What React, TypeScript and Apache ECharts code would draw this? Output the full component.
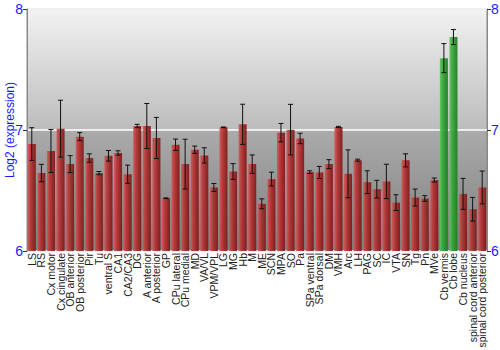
import React, { useEffect, useRef } from "react";
import * as echarts from "echarts";

const categories = [
  "LS", "RS", "Cx motor", "Cx cingulate", "OB anterior", "OB posterior", "Pir", "Tu",
  "ventral S", "CA1", "CA2/CA3", "DG", "A anterior", "A posterior", "GP", "CPu lateral",
  "CPu medial", "MD", "VA/VL", "VPM/VPL", "LG", "MG", "Hb", "M", "ME", "SCN", "MPA", "SO",
  "Pa", "SPa ventral", "SPa dorsal", "DM", "VMH", "Arc", "LH", "PAG", "SC", "IC", "VTA",
  "SN", "Tg", "Pn", "MVe", "Cb vermis", "Cb lobe", "Cb nucleus", "spinal cord anterior",
  "spinal cord posterior",
];

const values = [
  6.884, 6.644, 6.826, 7.011, 6.718, 6.945, 6.768, 6.644,
  6.787, 6.81, 6.635, 7.033, 7.033, 6.934, 6.436, 6.878,
  6.718, 6.837, 6.79, 6.525, 7.022, 6.657, 7.047, 6.718, 6.39, 6.594, 6.978, 7.003,
  6.93, 6.652, 6.649, 6.718, 7.025, 6.638, 6.751, 6.569, 6.511, 6.575, 6.4,
  6.749, 6.442, 6.434, 6.586, 7.594, 7.768, 6.472, 6.345,
  6.525,
];

const errors = [
  0.135, 0.072, 0.178, 0.235, 0.07, 0.033, 0.035, 0.013,
  0.044, 0.018, 0.075, 0.014, 0.186, 0.17, 0.003, 0.047,
  0.206, 0.03, 0.063, 0.033, 0.003, 0.065, 0.166, 0.076, 0.041, 0.057, 0.076, 0.209,
  0.043, 0.011, 0.05, 0.037, 0.005, 0.198, 0.008, 0.094, 0.073, 0.142, 0.065,
  0.054, 0.07, 0.023, 0.017, 0.12, 0.062, 0.128, 0.098,
  0.136,
];

const highlighted = ["Cb vermis", "Cb lobe"];

const yTicks = { min: 6, max: 8, interval: 1 };
const yAxisTitle = "Log2 (expression)";

export default function App() {
  const ref = useRef<HTMLDivElement>(null);
  useEffect(() => {
    if (!ref.current) return;
    const chart = echarts.init(ref.current, undefined, { renderer: "svg" });
    const redGrad = new echarts.graphic.LinearGradient(0, 0, 1, 0, [
      { offset: 0, color: "#d25a5a" },
      { offset: 0.35, color: "#b83434" },
      { offset: 1, color: "#7c1616" },
    ]);
    const greenGrad = new echarts.graphic.LinearGradient(0, 0, 1, 0, [
      { offset: 0, color: "#5cc85c" },
      { offset: 0.35, color: "#34a834" },
      { offset: 1, color: "#1c7a1c" },
    ]);
    const bgGrad = new echarts.graphic.LinearGradient(0, 0, 0, 1, [
      { offset: 0, color: "#f2f2f2" },
      { offset: 0.5, color: "#bcbcbc" },
      { offset: 0.5, color: "#ababab" },
      { offset: 1, color: "#7e7e7e" },
    ]);
    const blue = "#1a1aff";
    const yAxisCommon = {
      type: "value",
      min: yTicks.min,
      max: yTicks.max,
      interval: yTicks.interval,
      axisLine: { show: true, lineStyle: { color: "#888", width: 1 } },
      axisTick: { show: true, length: 4, lineStyle: { color: "#333" } },
      axisLabel: { color: blue, fontSize: 14, fontFamily: "Liberation Sans, Arial, sans-serif", margin: 4 },
    };
    chart.setOption({
      animation: false,
      grid: {
        left: 27,
        right: 13,
        top: 9,
        bottom: 99,
        show: true,
        backgroundColor: bgGrad,
        borderColor: "#888",
        borderWidth: 1,
        outerBoundsMode: "none",
        containLabel: false,
      },
      graphic: [
        {
          type: "text",
          x: 10,
          y: 130,
          rotation: Math.PI / 2,
          style: {
            text: yAxisTitle,
            fill: blue,
            fontSize: 12,
            fontFamily: "Liberation Sans, Arial, sans-serif",
            align: "center",
            verticalAlign: "middle",
          },
        },
      ],
      xAxis: {
        type: "category",
        data: categories,
        axisLine: { show: false },
        axisTick: { show: false },
        axisLabel: {
          interval: 0,
          rotate: 90,
          fontSize: 10.5,
          color: "#222",
          margin: 2,
          fontFamily: "Liberation Sans, Arial, sans-serif",
        },
      },
      yAxis: [
        {
          ...yAxisCommon,
          position: "left",
          splitLine: { show: true, lineStyle: { color: "#ffffff", width: 1.5 } },
        },
        {
          ...yAxisCommon,
          position: "right",
          splitLine: { show: false },
        },
      ],
      series: [
        {
          type: "bar",
          data: values.map((v, i) => ({
            value: v,
            itemStyle: {
              color: highlighted.includes(categories[i]) ? greenGrad : redGrad,
              opacity: 0.92,
            },
          })),
          barCategoryGap: "16%",
        },
        {
          type: "custom",
          data: values.map((v, i) => [i, v - errors[i], v + errors[i]]),
          z: 5,
          renderItem: (params: any, api: any) => {
            const x = api.value(0);
            const lo = api.coord([x, api.value(1)]);
            const hi = api.coord([x, api.value(2)]);
            const half = 2.5;
            const style = { stroke: "#111", lineWidth: 1 };
            return {
              type: "group",
              children: [
                { type: "line", shape: { x1: lo[0], y1: lo[1], x2: hi[0], y2: hi[1] }, style },
                { type: "line", shape: { x1: lo[0] - half, y1: lo[1], x2: lo[0] + half, y2: lo[1] }, style },
                { type: "line", shape: { x1: hi[0] - half, y1: hi[1], x2: hi[0] + half, y2: hi[1] }, style },
              ],
            };
          },
        },
      ],
    });
    return () => chart.dispose();
  }, []);
  return <div ref={ref} style={{ width: 500, height: 350, position: "absolute", left: 0, top: 0 }} />;
}
